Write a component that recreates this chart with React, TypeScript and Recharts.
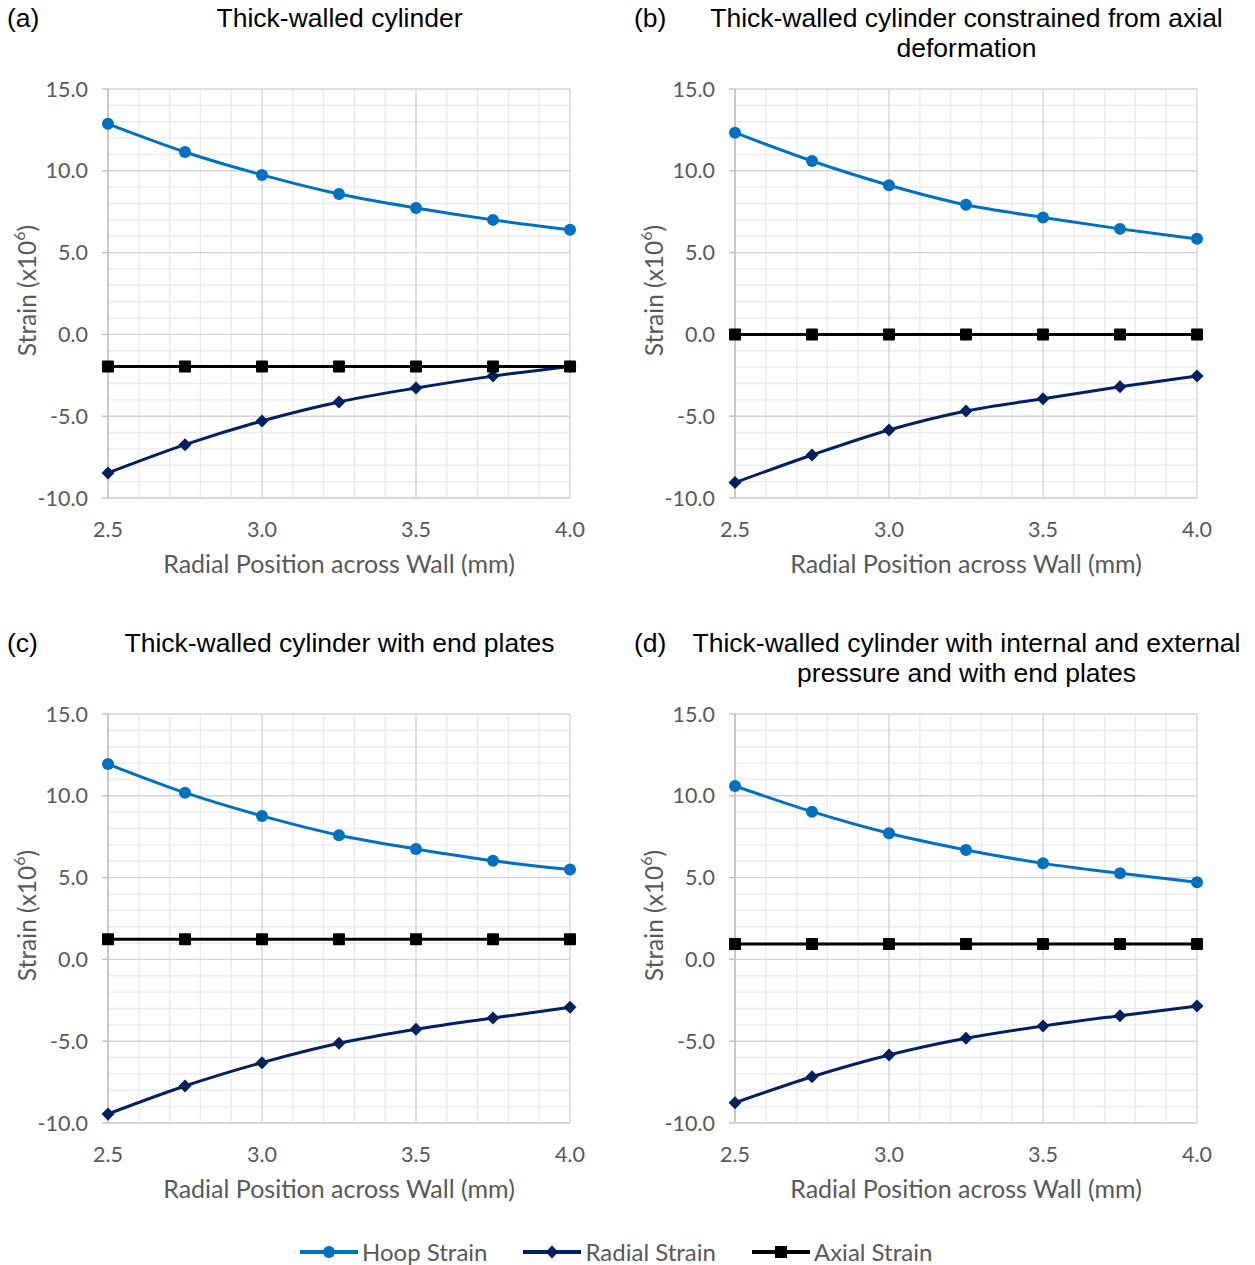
import React from 'react';
import { LineChart, Line, XAxis, YAxis, CartesianGrid } from 'recharts';

// ─── Data ─────────────────────────────────────────────────────────────────────

const radialPosition = [2.5, 2.75, 3.0, 3.25, 3.5, 3.75, 4.0];

// (a) thick-walled cylinder
const hoopA = [12.87, 11.15, 9.75, 8.58, 7.73, 7.0, 6.39];
const radialA = [-8.47, -6.74, -5.29, -4.13, -3.28, -2.55, -1.96];
const axialA = [-1.96, -1.96, -1.96, -1.96, -1.96, -1.96, -1.96];

// (b) constrained from axial deformation
const hoopB = [12.33, 10.6, 9.12, 7.92, 7.15, 6.45, 5.84];
const radialB = [-9.06, -7.37, -5.84, -4.68, -3.93, -3.2, -2.54];
const axialB = [0, 0, 0, 0, 0, 0, 0];

// (c) with end plates
const hoopC = [11.94, 10.19, 8.77, 7.59, 6.75, 6.03, 5.5];
const radialC = [-9.45, -7.74, -6.31, -5.13, -4.27, -3.58, -2.93];
const axialC = [1.23, 1.23, 1.23, 1.23, 1.23, 1.23, 1.23];

// (d) internal + external pressure, with end plates
const hoopD = [10.6, 9.03, 7.71, 6.69, 5.87, 5.26, 4.71];
const radialD = [-8.76, -7.17, -5.84, -4.82, -4.07, -3.44, -2.85];
const axialD = [0.94, 0.94, 0.94, 0.94, 0.94, 0.94, 0.94];

const xTicks = [2.5, 3.0, 3.5, 4.0];
const yTicks = [-10, -5, 0, 5, 10, 15];
const xMinor = [2.6, 2.7, 2.8, 2.9, 3.1, 3.2, 3.3, 3.4, 3.6, 3.7, 3.8, 3.9];
const yMinor = [-9, -8, -7, -6, -4, -3, -2, -1, 1, 2, 3, 4, 6, 7, 8, 9, 11, 12, 13, 14];

// ─── Styling ──────────────────────────────────────────────────────────────────

const HOOP = '#0070C0';
const RADIAL = '#002060';
const AXIAL = '#000000';
const AXIS_TEXT = '#595959';
const AXIS_FONT = 'Lato, "Open Sans", sans-serif';
const TITLE_FONT = '"Liberation Sans", Arial, sans-serif';
const LINE_W = 3;

const CHART_W = 620;
const CHART_H = 600;

// ─── Markers ──────────────────────────────────────────────────────────────────

function Circle(props: any) {
  const { cx, cy } = props;
  if (cx == null || cy == null) return null;
  return <circle cx={cx} cy={cy} r={6} fill={HOOP} />;
}

function Diamond(props: any) {
  const { cx, cy } = props;
  if (cx == null || cy == null) return null;
  const s = 6.5;
  return <path d={`M${cx},${cy - s}L${cx + s},${cy}L${cx},${cy + s}L${cx - s},${cy}Z`} fill={RADIAL} />;
}

function Square(props: any) {
  const { cx, cy } = props;
  if (cx == null || cy == null) return null;
  return <rect x={cx - 6} y={cy - 6} width={12} height={12} rx={1} fill={AXIAL} />;
}

// ─── Axis titles ──────────────────────────────────────────────────────────────

function YTitle(props: any) {
  const { x, y, height } = props.viewBox;
  const cx = x + 26;
  const cy = y + height / 2 - 3;
  return (
    <text
      x={cx}
      y={cy}
      transform={`rotate(-90 ${cx} ${cy})`}
      textAnchor="middle"
      dominantBaseline="central"
      fill={AXIS_TEXT}
      fontSize={24.5}
      fontFamily={AXIS_FONT}
    >
      Strain (x10<tspan dy={-8} fontSize={16}>6</tspan><tspan dy={8}>)</tspan>
    </text>
  );
}

function XTitle(props: any) {
  const { x, y, width } = props.viewBox;
  return (
    <text
      x={x + width / 2}
      y={y + 65}
      textAnchor="middle"
      dominantBaseline="central"
      fill={AXIS_TEXT}
      fontSize={25}
      fontFamily={AXIS_FONT}
    >
      Radial Position across Wall (mm)
    </text>
  );
}

// ─── Panel ────────────────────────────────────────────────────────────────────

interface PanelProps {
  left: number;
  top: number;
  tag: string;
  title: string[];
  hoop: number[];
  radial: number[];
  axial: number[];
}

function StrainPanel({ left, top, tag, title, hoop, radial, axial }: PanelProps) {
  const data = radialPosition.map((r, i) => ({ r, hoop: hoop[i], radial: radial[i], axial: axial[i] }));
  const tick = { fill: AXIS_TEXT, fontSize: 21.5, fontFamily: AXIS_FONT };

  return (
    <div style={{ position: 'absolute', left, top, width: CHART_W, height: CHART_H }}>
      <div style={{ position: 'absolute', left: 7, top: 3, fontFamily: TITLE_FONT, fontSize: 26.5, color: '#000', lineHeight: '30px' }}>
        {tag}
      </div>
      <div
        style={{
          position: 'absolute',
          left: 58,
          width: 563,
          top: 3,
          textAlign: 'center',
          fontFamily: TITLE_FONT,
          fontSize: 26.5,
          color: '#000',
          lineHeight: '30px',
          whiteSpace: 'nowrap',
        }}
      >
        {title.map(t => (
          <div key={t}>{t}</div>
        ))}
      </div>
      <LineChart width={CHART_W} height={CHART_H} data={data} margin={{ top: 89, right: 50, bottom: 22, left: 0 }}>
        <CartesianGrid stroke="#ececec" strokeWidth={1.4} horizontalValues={yMinor} verticalValues={xMinor} />
        <CartesianGrid stroke="#d4d4d4" strokeWidth={1.4} />
        <XAxis
          dataKey="r"
          type="number"
          domain={[2.5, 4]}
          ticks={xTicks}
          tickFormatter={(v: number) => v.toFixed(1)}
          tick={tick}
          tickLine={false}
          tickMargin={18}
          axisLine={{ stroke: '#d4d4d4', strokeWidth: 1.4 }}
          height={80}
          label={<XTitle />}
        />
        <YAxis
          type="number"
          domain={[-10, 15]}
          ticks={yTicks}
          tickFormatter={(v: number) => v.toFixed(1)}
          tick={tick}
          tickSize={6}
          tickMargin={14}
          tickLine={{ stroke: '#bfbfbf', strokeWidth: 1.4 }}
          axisLine={{ stroke: '#bfbfbf', strokeWidth: 1.4 }}
          width={108}
          interval={0}
          label={<YTitle />}
        />
        <Line type="monotone" dataKey="hoop" stroke={HOOP} strokeWidth={LINE_W} dot={<Circle />} isAnimationActive={false} />
        <Line type="monotone" dataKey="radial" stroke={RADIAL} strokeWidth={LINE_W} dot={<Diamond />} isAnimationActive={false} />
        <Line type="monotone" dataKey="axial" stroke={AXIAL} strokeWidth={LINE_W} dot={<Square />} isAnimationActive={false} />
      </LineChart>
    </div>
  );
}

// ─── Legend ───────────────────────────────────────────────────────────────────

const legendItems = [
  { name: 'Hoop Strain', color: HOOP, marker: 'circle' },
  { name: 'Radial Strain', color: RADIAL, marker: 'diamond' },
  { name: 'Axial Strain', color: AXIAL, marker: 'square' },
];

function LegendIcon({ color, marker }: { color: string; marker: string }) {
  return (
    <svg width={58} height={20} style={{ display: 'block' }}>
      <line x1={0} y1={10} x2={58} y2={10} stroke={color} strokeWidth={4} />
      {marker === 'circle' && <circle cx={29} cy={10} r={6} fill={color} />}
      {marker === 'diamond' && <path d="M29,3.5L35.5,10L29,16.5L22.5,10Z" fill={color} />}
      {marker === 'square' && <rect x={23} y={4} width={12} height={12} fill={color} />}
    </svg>
  );
}

function SharedLegend() {
  return (
    <div style={{ position: 'absolute', left: 300, top: 1238, display: 'flex', alignItems: 'center', gap: 36 }}>
      {legendItems.map(it => (
        <div key={it.name} style={{ display: 'flex', alignItems: 'center', gap: 4 }}>
          <LegendIcon color={it.color} marker={it.marker} />
          <span style={{ fontFamily: AXIS_FONT, fontSize: 24, color: AXIS_TEXT, lineHeight: '28px' }}>{it.name}</span>
        </div>
      ))}
    </div>
  );
}

// ─── Main ─────────────────────────────────────────────────────────────────────

export default function App() {
  return (
    <div style={{ position: 'absolute', left: 0, top: 0, width: 1255, height: 1265, background: '#fff' }}>
      <StrainPanel left={0} top={0} tag="(a)" title={['Thick-walled cylinder']} hoop={hoopA} radial={radialA} axial={axialA} />
      <StrainPanel
        left={627}
        top={0}
        tag="(b)"
        title={['Thick-walled cylinder constrained from axial', 'deformation']}
        hoop={hoopB}
        radial={radialB}
        axial={axialB}
      />
      <StrainPanel left={0} top={625} tag="(c)" title={['Thick-walled cylinder with end plates']} hoop={hoopC} radial={radialC} axial={axialC} />
      <StrainPanel
        left={627}
        top={625}
        tag="(d)"
        title={['Thick-walled cylinder with internal and external', 'pressure and with end plates']}
        hoop={hoopD}
        radial={radialD}
        axial={axialD}
      />
      <SharedLegend />
    </div>
  );
}
